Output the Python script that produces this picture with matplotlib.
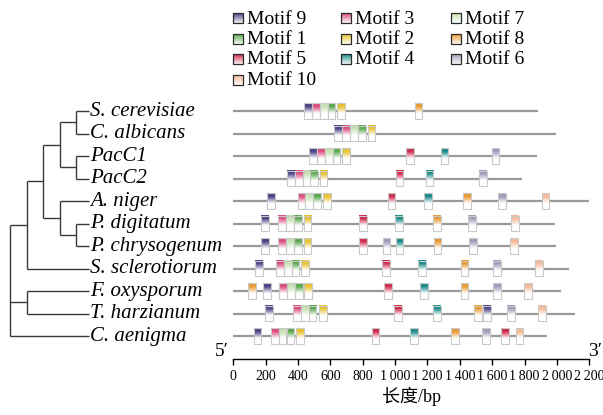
import numpy as np
import matplotlib
matplotlib.use("Agg")
import matplotlib.pyplot as plt
from matplotlib.patches import Rectangle
from matplotlib.colors import to_rgb

# --- data ---
species = ["S. cerevisiae", "C. albicans", "PacC1", "PacC2", "A. niger",
           "P. digitatum", "P. chrysogenum", "S. sclerotiorum",
           "F. oxysporum", "T. harzianum", "C. aenigma"]

# protein length (bp scale of the figure)
lengths = [1880, 1993, 1875, 1786, 2200, 1988, 1994, 2077, 2023, 2112, 1937]

# motif number and start position for each sequence
motif_ids = [
    [9, 3, 7, 1, 2, 8],
    [9, 3, 7, 1, 2],
    [9, 3, 7, 1, 2, 5, 4, 6],
    [9, 3, 7, 1, 2, 5, 4, 6],
    [9, 3, 7, 1, 2, 5, 4, 8, 6, 10],
    [9, 3, 7, 1, 2, 5, 4, 8, 6, 10],
    [9, 3, 7, 1, 2, 5, 6, 4, 8, 6, 10],
    [9, 3, 7, 1, 2, 5, 4, 8, 6, 10],
    [8, 9, 3, 7, 1, 2, 5, 4, 8, 6, 10],
    [9, 3, 7, 1, 2, 5, 4, 8, 9, 6, 10],
    [9, 3, 7, 1, 2, 5, 4, 8, 6, 5, 10],
]
motif_starts = [
    [439, 488, 536, 583, 643, 1121],
    [624, 674, 723, 771, 830],
    [470, 519, 569, 614, 674, 1069, 1281, 1597],
    [332, 381, 428, 474, 534, 1003, 1189, 1520],
    [210, 398, 445, 493, 554, 954, 1179, 1422, 1636, 1906],
    [171, 278, 328, 375, 435, 779, 1001, 1236, 1452, 1716],
    [173, 278, 328, 375, 435, 777, 923, 1003, 1238, 1457, 1712],
    [134, 264, 313, 361, 420, 919, 1144, 1405, 1605, 1866],
    [91, 184, 282, 332, 380, 439, 930, 1154, 1405, 1607, 1798],
    [196, 369, 418, 466, 528, 993, 1234, 1488, 1545, 1692, 1883],
    [126, 233, 282, 328, 389, 855, 1094, 1344, 1539, 1655, 1745],
]
motif_width = 48

motif_colors = {
    9: "#4b4283", 3: "#dc4d7d", 7: "#c6e2b2", 1: "#5aa84e", 2: "#e9c12e",
    8: "#e99a32", 5: "#d12a4a", 4: "#1b8b88", 6: "#9d9cbb", 10: "#f6b996",
}
legend_order = [9, 3, 7, 1, 2, 8, 5, 4, 6, 10]

# phylogenetic tree (leaf order = species order)
tree = (((((("S. cerevisiae", "C. albicans"), ("PacC1", "PacC2")),
           ("A. niger", ("P. digitatum", "P. chrysogenum"))),
          "S. sclerotiorum"),
         ("F. oxysporum", "T. harzianum"),
         "C. aenigma"))

xticks = list(range(0, 2201, 200))

serif = "Liberation Serif"
W, H = 603, 415
fig = plt.figure(figsize=(W / 100, H / 100), dpi=100)

# axes geometry (pixels)
row0_px, row_step = 111.0, 22.5
n = len(species)
ax_left, ax_right = 233.3, 589.3
ax_bottom_px = row0_px + row_step * n          # axis line position
ax_top_px = row0_px - row_step * 0.5
rect_y = (H - ax_bottom_px) / H
rect_h = (ax_bottom_px - ax_top_px) / H

ax = fig.add_axes([ax_left / W, rect_y, (ax_right - ax_left) / W, rect_h])
box_h = 0.68


def gradient_box(axis, x, y, w, h, color, solid=0.2, fade=0.65, edge="#c9c9c9", lw=0.8):
    c = np.array(to_rgb(color))
    t = np.linspace(0, 1, 40)
    a = np.clip((fade - t) / (fade - solid), 0, 1)[:, None]
    img = (a * c + (1 - a) * np.ones(3))[:, None, :]
    axis.imshow(img, extent=(x, x + w, y + h / 2, y - h / 2), origin="upper",
                aspect="auto", interpolation="bilinear", zorder=3)
    axis.add_patch(Rectangle((x, y - h / 2), w, h, fill=False, edgecolor=edge,
                             lw=lw, zorder=4))


for i, sp in enumerate(species):
    ax.plot([0, lengths[i]], [i, i], color="#9a9a9a", lw=1.6, zorder=1,
            solid_capstyle="butt")
    for m, s in zip(motif_ids[i], motif_starts[i]):
        gradient_box(ax, s, i, motif_width, box_h, motif_colors[m])

ax.set_xlim(0, 2200)
ax.set_ylim(n, -0.5)
for side in ["top", "left", "right"]:
    ax.spines[side].set_visible(False)
ax.spines["bottom"].set_linewidth(1.0)
ax.set_yticks([])
ax.set_xticks(xticks)
ax.set_xticklabels([f"{v:,}".replace(",", "\u2009") for v in xticks],
                   fontfamily=serif, fontsize=10)
ax.tick_params(axis="x", direction="out", length=4.5, width=1.0, pad=3.5)
ax.set_xlabel("长度/bp", fontfamily=[serif, "Noto Sans CJK SC"], fontsize=13,
              labelpad=3)
ax.annotate("5′", xy=(0, n), xytext=(-3, -1), textcoords="offset points",
            ha="right", va="bottom", fontfamily=serif, fontsize=14,
            annotation_clip=False)
ax.annotate("3′", xy=(2200, n), xytext=(-1, -1), textcoords="offset points",
            ha="left", va="bottom", fontfamily=serif, fontsize=14,
            annotation_clip=False)

# --- tree ---
tx = fig.add_axes([0, rect_y, ax_left / W, rect_h])
tx.set_ylim(n, -0.5)
step_px = 16.6
tx.set_xlim(-10 / step_px, (ax_left - 10) / step_px)
tx.axis("off")
leaf_depth = 4.75
tree_kw = dict(color="#3a3a3a", lw=1.0, solid_capstyle="butt")


def draw(node, depth):
    # returns the y position of the node, drawing its subtree
    child_pos = []
    for ch in node:
        if isinstance(ch, str):
            yy = species.index(ch)
            tx.plot([depth, leaf_depth], [yy, yy], **tree_kw)
            tx.text(leaf_depth + 0.08, yy, ch, ha="left", va="center",
                    fontfamily=serif, fontstyle="italic", fontsize=15)
        else:
            yy = draw(ch, depth + 1)
            tx.plot([depth, depth + 1], [yy, yy], **tree_kw)
        child_pos.append(yy)
    tx.plot([depth, depth], [min(child_pos), max(child_pos)], **tree_kw)
    return (child_pos[0] + child_pos[-1]) / 2


draw(tree, 0)

# --- legend ---
lg = fig.add_axes([0, 0, 1, 1])
lg.set_xlim(0, W)
lg.set_ylim(H, 0)
lg.axis("off")
col_x = [233, 341, 451]
row_y = [18.5, 39, 59.5, 80]
for k, m in enumerate(legend_order):
    cx, cy = col_x[k % 3], row_y[k // 3]
    gradient_box(lg, cx, cy, 10, 10, motif_colors[m], solid=0.0, fade=1.05,
                 edge="#2a2a2a", lw=0.9)
    lg.text(cx + 14, cy + 0.5, f"Motif {m}", ha="left", va="center",
            fontfamily=serif, fontsize=14)

fig.savefig("out.png", dpi=100)
